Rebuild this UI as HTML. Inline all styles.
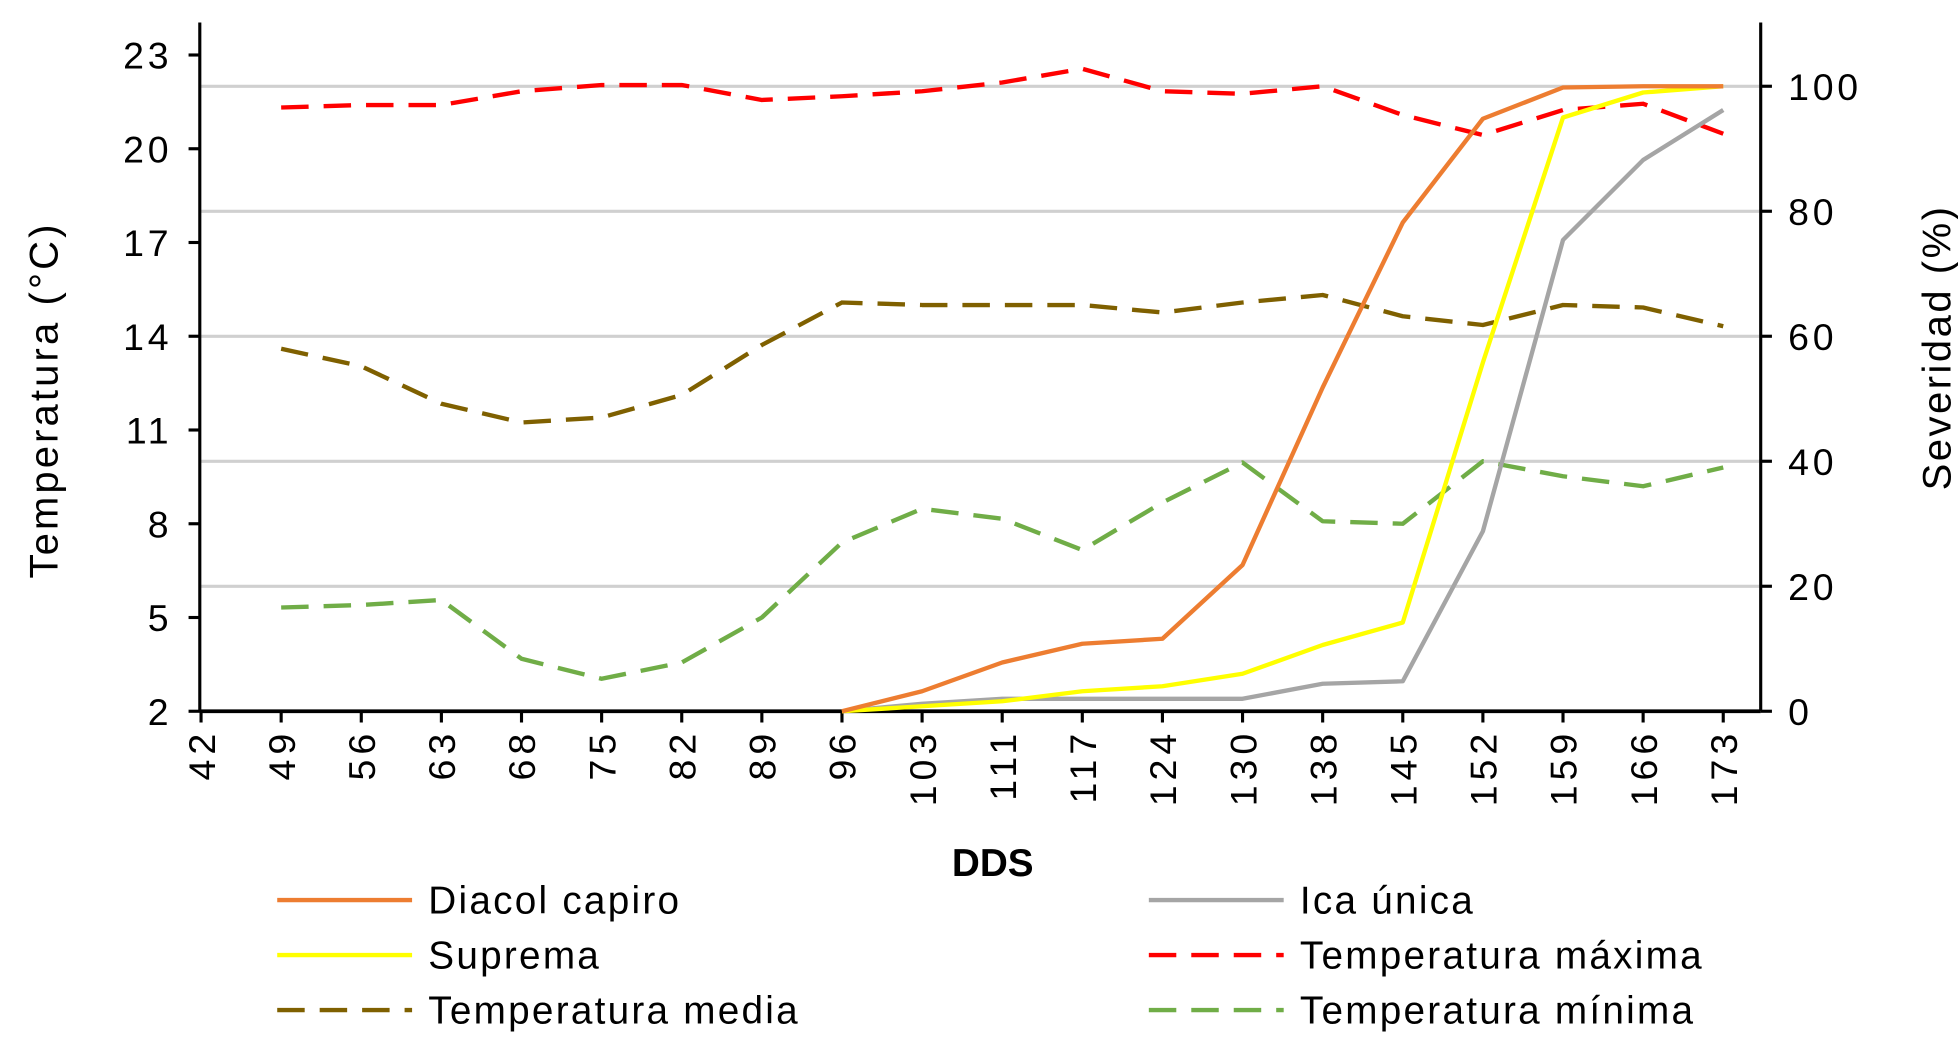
<!DOCTYPE html>
<html><head><meta charset="utf-8"><style>
html,body{margin:0;padding:0;background:#fff}
svg{display:block;font-family:"Liberation Sans",sans-serif}
</style></head><body>
<svg id="chart" width="1958" height="1045" viewBox="0 0 1568 836" preserveAspectRatio="none"></svg>
<script>
const categories=[42,49,56,63,68,75,82,89,96,103,111,117,124,130,138,145,152,159,166,173];
const tMax=[null,21.32,21.4,21.4,21.84,22.04,22.04,21.56,21.68,21.84,22.12,22.56,21.84,21.76,22.0,21.08,20.44,21.24,21.44,20.48];
const tMed=[null,13.6,13.04,11.84,11.24,11.4,12.12,13.72,15.08,15.0,15.0,15.0,14.76,15.08,15.32,14.64,14.36,15.0,14.92,14.32];
const tMin=[null,5.32,5.4,5.56,3.68,3.04,3.56,5.0,7.4,8.48,8.16,7.16,8.68,9.96,8.08,8.0,10.0,9.52,9.2,9.8];
const diacol=[null,null,null,null,null,null,null,null,0,3.2,7.8,10.8,11.6,23.4,51.8,78.2,94.8,99.8,100,100];
const suprema=[null,null,null,null,null,null,null,null,0,0.8,1.6,3.2,4,6,10.6,14.2,55.8,95,99,100];
const ica=[null,null,null,null,null,null,null,null,0,1.2,2,2,2,2,4.4,4.8,28.8,75.4,88.2,96.2];
const leftTicks=[2,5,8,11,14,17,20,23];
const rightTicks=[0,20,40,60,80,100];

const svg=document.getElementById('chart');
const NS='http://www.w3.org/2000/svg';
function mk(tag,attrs,parent){const e=document.createElementNS(NS,tag);for(const k in attrs)e.setAttribute(k,attrs[k]);(parent||svg).appendChild(e);return e;}
const X0=161,X1=1380,L=160,R=1410,B=569;
const x=i=>X0+i*(X1-X0)/(categories.length-1);
const yL=v=>B-(v-2)*25;
const yR=v=>B-v*5;

rightTicks.forEach(t=>{if(t===0)return;const g=mk('line',{x1:L,x2:R,y1:yR(t),y2:yR(t),stroke:'#d0d0d0','stroke-width':2.5});

});

let a=mk('line',{x1:L,x2:L,y1:18,y2:B,stroke:'#000','stroke-width':2.5});

a=mk('line',{x1:R,x2:R,y1:18,y2:B,stroke:'#000','stroke-width':2.5});

a=mk('line',{x1:L,x2:R,y1:B,y2:B,stroke:'#000','stroke-width':3});


leftTicks.forEach(t=>{const y=yL(t);mk('line',{x1:L-9,x2:L,y1:y,y2:y,stroke:'#000','stroke-width':2.5});
const tx=mk('text',{x:L-22,y:y+11,'text-anchor':'end','font-size':30,'letter-spacing':3,fill:'#000'});tx.textContent=t;

});
rightTicks.forEach(t=>{const y=yR(t);mk('line',{x1:R,x2:R+9,y1:y,y2:y,stroke:'#000','stroke-width':2.5});
const tx=mk('text',{x:R+22,y:y+11,'text-anchor':'start','font-size':30,'letter-spacing':3,fill:'#000'});tx.textContent=t;

});
categories.forEach((c,i)=>{const xi=x(i);mk('line',{x1:xi,x2:xi,y1:B,y2:B+9,stroke:'#000','stroke-width':2.5});
const tx=mk('text',{x:0,y:0,'text-anchor':'end','font-size':30,'letter-spacing':4,fill:'#000',transform:`translate(${xi+11},${B+14}) rotate(-90)`});tx.textContent=c;

});

function series(vals,yf,color,dash,name,w){let d='';let started=false;
vals.forEach((v,i)=>{if(v===null)return;d+=(started?'L':'M')+x(i)+','+yf(v);started=true;});
const p=mk('path',{d,fill:'none',stroke:color,'stroke-width':w,'stroke-dasharray':dash||'none','stroke-linejoin':'round'});

}
series(tMed,yL,'#7f6000','22,12','series-temperatura-media',3.5);
series(tMin,yL,'#70ad47','22,12','series-temperatura-minima',3.5);
series(tMax,yL,'#ff0000','22,12','series-temperatura-maxima',3.5);
series(ica,yR,'#a5a5a5',null,'series-ica-unica',3.5);
series(suprema,yR,'#ffff00',null,'series-suprema',3.5);
series(diacol,yR,'#ed7d31',null,'series-diacol-capiro',3.5);

let t=mk('text',{x:795,y:701,'text-anchor':'middle','font-size':31,'font-weight':'bold'});t.textContent='DDS';

t=mk('text',{x:0,y:0,'text-anchor':'middle','font-size':32,'letter-spacing':2.5,transform:'translate(46,320) rotate(-90)'});t.textContent='Temperatura (°C)';

t=mk('text',{x:0,y:0,'text-anchor':'middle','font-size':32,'letter-spacing':2,transform:'translate(1562,278) rotate(-90)'});t.textContent='Severidad (%)';


const legend=[['Diacol capiro','#ed7d31',null,222,720],['Ica única','#a5a5a5',null,920,720],['Suprema','#ffff00',null,222,764],['Temperatura máxima','#ff0000','22,12',920,764],['Temperatura media','#7f6000','22,12',222,808],['Temperatura mínima','#70ad47','22,12',920,808]];
legend.forEach(([lab,c,d,lx,ly])=>{const g=mk('g',{});


mk('line',{x1:lx,x2:lx+108,y1:ly,y2:ly,stroke:c,'stroke-width':3.5,'stroke-dasharray':d||'none'},g);
const tx=mk('text',{x:lx+121,y:ly+11,'font-size':31,'letter-spacing':1.8},g);tx.textContent=lab;});
</script>
</body></html>
